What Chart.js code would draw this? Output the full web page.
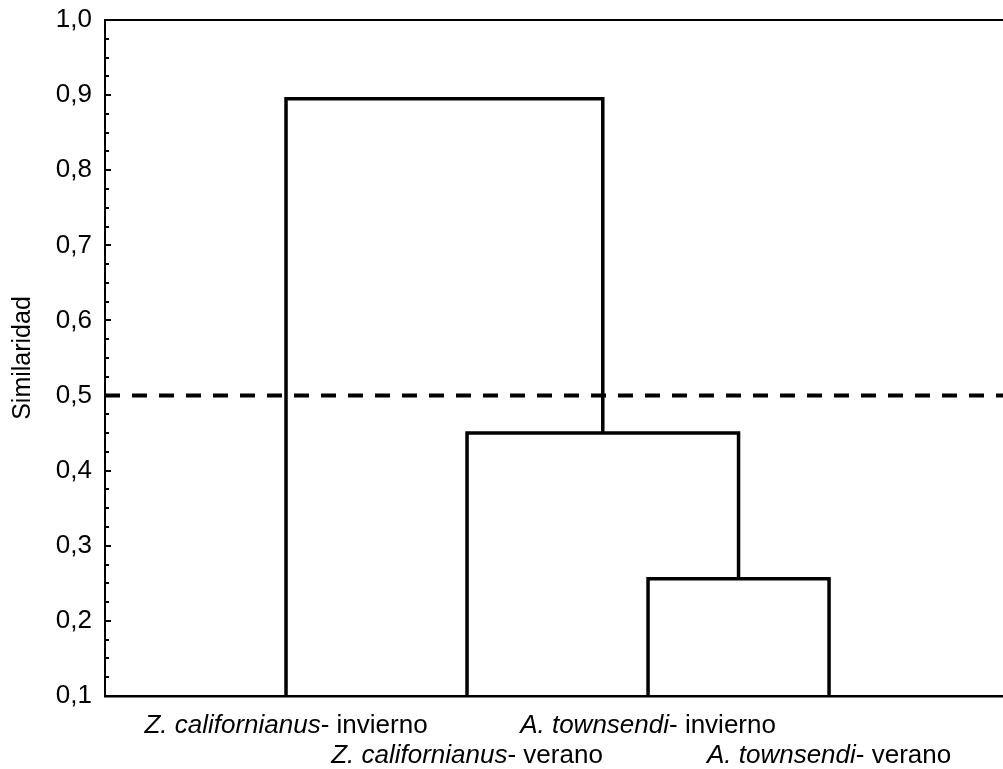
<!DOCTYPE html>
<html>
<head>
<meta charset="utf-8">
<script src="https://cdn.jsdelivr.net/npm/chart.js@4/dist/chart.umd.min.js"></script>
<style>
  html, body { margin: 0; padding: 0; background: #fff; }
  #wrap { width: 1003px; height: 769px; position: relative; }
</style>
</head>
<body>
<div id="wrap"><canvas id="c"></canvas></div>
<script>
// ---- data ----
const leafGenus  = ["Z. californianus", "Z. californianus", "A. townsendi", "A. townsendi"];
const leafSeason = ["- invierno", "- verano", "- invierno", "- verano"];
// linkage: cluster ids 0..3 are leaves, 4.. are merges in order
const mergeA = [2, 1, 0];
const mergeB = [3, 4, 5];
const mergeHeight = [0.256, 0.45, 0.895];
const cutLevel = 0.5;
const yTickValues = [0.1, 0.2, 0.3, 0.4, 0.5, 0.6, 0.7, 0.8, 0.9, 1.0];
const yTickLabels = ["0,1", "0,2", "0,3", "0,4", "0,5", "0,6", "0,7", "0,8", "0,9", "1,0"];
const yTitle = "Similaridad";

const Y_MIN = 0.1, Y_MAX = 1.0;
const X_MIN = 0, X_MAX = 4.961;
const FONT = '"Liberation Sans", Arial, sans-serif';
const FS = 26;

// build dendrogram segments from linkage
const pos = {}, ht = {};
leafGenus.forEach((_, i) => { pos[i] = i + 1; ht[i] = Y_MIN; });
const datasets = [];
mergeA.forEach((a, k) => {
  const b = mergeB[k], h = mergeHeight[k], id = leafGenus.length + k;
  datasets.push({
    data: [{x: pos[a], y: ht[a]}, {x: pos[a], y: h}, {x: pos[b], y: h}, {x: pos[b], y: ht[b]}],
    borderColor: '#000', borderWidth: 3.5, pointRadius: 0, tension: 0,
    borderJoinStyle: 'miter', borderCapStyle: 'butt', clip: false
  });
  pos[id] = (pos[a] + pos[b]) / 2;
  ht[id] = h;
});
datasets.push({
  data: [{x: X_MIN, y: cutLevel}, {x: X_MAX, y: cutLevel}],
  borderColor: '#000', borderWidth: 4, borderDash: [15, 12], pointRadius: 0, tension: 0
});

const decor = {
  id: 'decor',
  afterDraw(chart) {
    const ctx = chart.ctx, ca = chart.chartArea;
    const ys = chart.scales.y, xs = chart.scales.x;
    ctx.save();
    // top frame line
    ctx.strokeStyle = '#000';
    ctx.lineWidth = 2;
    ctx.beginPath();
    ctx.moveTo(ca.left - 1, ca.top);
    ctx.lineTo(ca.right, ca.top);
    ctx.stroke();
    // inward ticks (major + minor)
    for (let i = 0; i <= 36; i++) {
      const v = Y_MIN + i * 0.025;
      const py = Math.round(ys.getPixelForValue(v));
      const len = (i % 4 === 0) ? 6 : 4;
      ctx.beginPath();
      ctx.moveTo(ca.left, py);
      ctx.lineTo(ca.left + len, py);
      ctx.stroke();
    }
    // leaf labels (italic genus + normal season), staggered rows
    ctx.fillStyle = '#000';
    ctx.textBaseline = 'alphabetic';
    ctx.textAlign = 'left';
    leafGenus.forEach((g, i) => {
      const cx = xs.getPixelForValue(i + 1);
      const y = ca.bottom + (i % 2 === 0 ? 37 : 67);
      ctx.font = 'italic ' + FS + 'px ' + FONT;
      const w1 = ctx.measureText(g).width;
      ctx.font = FS + 'px ' + FONT;
      const w2 = ctx.measureText(leafSeason[i]).width;
      const x0 = cx - (w1 + w2) / 2;
      ctx.font = 'italic ' + FS + 'px ' + FONT;
      ctx.fillText(g, x0, y);
      ctx.font = FS + 'px ' + FONT;
      ctx.fillText(leafSeason[i], x0 + w1, y);
    });
    ctx.restore();
  }
};

new Chart(document.getElementById('c'), {
  type: 'line',
  data: { datasets },
  options: {
    responsive: true,
    maintainAspectRatio: false,
    animation: false,
    events: [],
    layout: { padding: { top: 20, right: 0, left: 0, bottom: 0 } },
    plugins: { legend: { display: false }, tooltip: { enabled: false } },
    scales: {
      x: {
        type: 'linear', min: X_MIN, max: X_MAX,
        grid: { display: false, drawTicks: false },
        border: { display: true, color: '#000', width: 2.5 },
        ticks: { display: false },
        afterFit(s) { s.height = 73; s.paddingLeft = 0; s.paddingRight = 0; }
      },
      y: {
        type: 'linear', min: Y_MIN, max: Y_MAX,
        afterBuildTicks(s) { s.ticks = yTickValues.map(v => ({ value: v })); },
        grid: { display: false, drawTicks: false },
        border: { display: true, color: '#000', width: 2 },
        ticks: {
          color: '#000', padding: 13,
          font: { family: FONT, size: FS },
          callback(v) { const i = yTickValues.findIndex(t => Math.abs(t - v) < 1e-9); return i >= 0 ? yTickLabels[i] : ''; }
        },
        title: {
          display: true, text: yTitle, color: '#000',
          font: { family: FONT, size: 25 },
          padding: { top: 8, bottom: 0 }
        },
        afterFit(s) { s.width = 105; s.paddingTop = 0; s.paddingBottom = 0; }
      }
    }
  },
  plugins: [decor]
});
</script>
</body>
</html>
